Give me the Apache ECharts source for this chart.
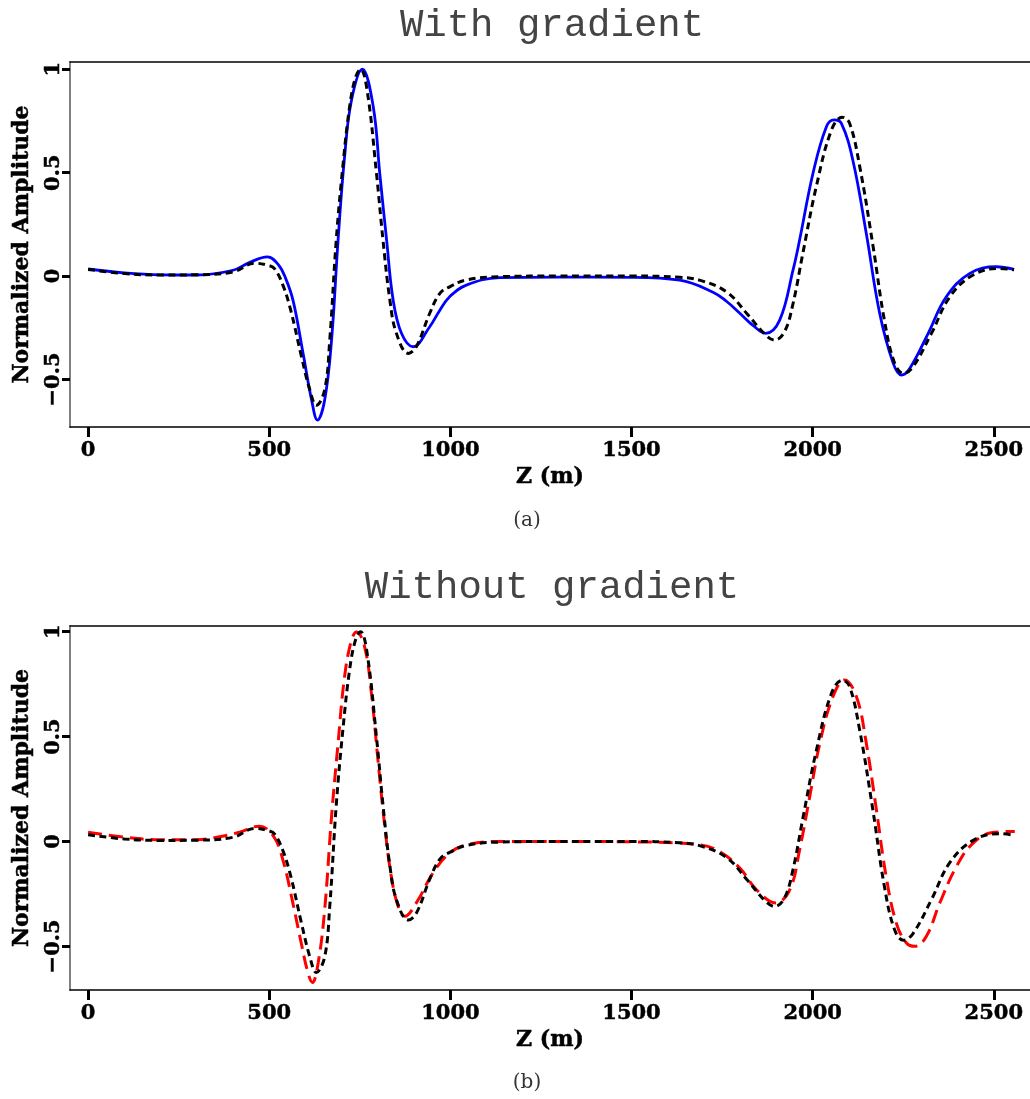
<!DOCTYPE html>
<html>
<head>
<meta charset="utf-8">
<title>Normalized amplitude vs depth</title>
<script src="https://cdn.jsdelivr.net/npm/echarts@6/dist/echarts.min.js"></script>
<style>
  html, body { margin: 0; padding: 0; background: #fff; }
  #chart { width: 1030px; height: 1099px; }
</style>
</head>
<body>
<div id="chart"></div>
<script>
// Reference wavelet (black dotted), shared by both panels
const refZ   = [0, 100, 200, 300, 400, 460, 500, 515, 538, 560, 589, 612, 630, 653, 667, 685, 704, 722, 738, 752, 770, 796, 814, 833, 851, 884, 906, 943, 971, 998, 1044, 1136, 1300, 1500, 1633, 1688, 1762, 1822, 1870, 1895, 1922, 1945, 1973, 2010, 2052, 2082, 2102, 2130, 2167, 2198, 2226, 2251, 2277, 2328, 2379, 2443, 2516, 2556];
const refAmp = [0.032, 0.012, 0.005, 0.006, 0.02, 0.062, 0.05, 0.035, -0.045, -0.17, -0.39, -0.55, -0.625, -0.55, -0.31, 0.174, 0.545, 0.82, 0.96, 1.0, 0.9, 0.497, 0.174, -0.116, -0.277, -0.374, -0.342, -0.18, -0.084, -0.052, -0.019, -0.003, 0.0, 0.0, -0.006, -0.02, -0.076, -0.189, -0.285, -0.31, -0.27, -0.14, 0.11, 0.432, 0.706, 0.768, 0.739, 0.529, 0.142, -0.213, -0.42, -0.471, -0.439, -0.277, -0.1, 0.005, 0.037, 0.03];

// Panel (a): with gradient (blue solid)
const gradZ   = [0, 100, 200, 300, 400, 445, 495, 525, 545, 566, 593, 617, 633, 653, 672, 690, 708, 727, 757, 787, 805, 824, 842, 865, 897, 943, 971, 998, 1044, 1136, 1300, 1500, 1633, 1725, 1762, 1799, 1836, 1870, 1909, 1946, 1964, 2001, 2038, 2059, 2079, 2111, 2148, 2185, 2222, 2245, 2268, 2319, 2369, 2434, 2507, 2556];
const gradAmp = [0.034, 0.015, 0.006, 0.005, 0.028, 0.065, 0.093, 0.055, -0.01, -0.12, -0.37, -0.6, -0.697, -0.6, -0.31, 0.174, 0.577, 0.85, 1.0, 0.82, 0.497, 0.174, -0.116, -0.277, -0.342, -0.245, -0.165, -0.1, -0.044, -0.008, -0.005, -0.006, -0.02, -0.078, -0.122, -0.18, -0.24, -0.277, -0.213, 0.03, 0.174, 0.497, 0.722, 0.755, 0.739, 0.56, 0.207, -0.18, -0.42, -0.479, -0.447, -0.277, -0.1, 0.013, 0.045, 0.032];

// Panel (b): without gradient (red dashed)
const noGradZ   = [0, 100, 200, 300, 355, 420, 472, 512, 538, 566, 589, 607, 619, 635, 653, 672, 690, 708, 727, 741, 763, 782, 800, 819, 837, 856, 874, 906, 952, 998, 1044, 1136, 1300, 1500, 1688, 1743, 1799, 1845, 1898, 1937, 1964, 1992, 2020, 2056, 2088, 2121, 2148, 2176, 2203, 2231, 2259, 2282, 2314, 2351, 2397, 2443, 2497, 2558];
const noGradAmp = [0.044, 0.02, 0.008, 0.008, 0.02, 0.045, 0.073, 0.024, -0.09, -0.3, -0.49, -0.627, -0.672, -0.579, -0.325, 0.119, 0.469, 0.786, 0.96, 0.998, 0.93, 0.707, 0.389, 0.071, -0.167, -0.31, -0.357, -0.293, -0.15, -0.055, -0.016, 0.0, 0.0, -0.002, -0.016, -0.048, -0.127, -0.23, -0.293, -0.23, -0.04, 0.214, 0.469, 0.69, 0.77, 0.69, 0.469, 0.151, -0.167, -0.389, -0.484, -0.5, -0.452, -0.293, -0.119, -0.008, 0.043, 0.048];

// Tick positions
const zTicks   = [0, 500, 1000, 1500, 2000, 2500];
const ampTicks = [-0.5, 0, 0.5, 1];

const panelTitles = ['With gradient', 'Without gradient'];
const panelTags   = ['(a)', '(b)'];

const pairs = (xs, ys) => xs.map((x, i) => [x, ys[i]]);

const labelFont = 'DejaVu Serif';
const boldText = { fontFamily: labelFont, fontWeight: 'bold', color: '#000', textBorderColor: '#000', textBorderWidth: 0.5 };
const ampLabel = (v) => String(v).replace('-', '\u2212');
const zLabel = (v) => String(v);

function bottomAxis(gridIndex) {
  return {
    type: 'value', gridIndex, position: 'bottom', min: -50, max: 2600,
    name: 'Z (m)', nameLocation: 'middle', nameGap: 39,
    nameTextStyle: Object.assign({ fontSize: 22 }, boldText),
    axisLine: { show: true, onZero: false, lineStyle: { color: '#000', width: 1.5 } },
    axisTick: { show: true, customValues: zTicks, length: 10, lineStyle: { color: '#000', width: 3 } },
    axisLabel: Object.assign({ customValues: zTicks, margin: 13, fontSize: 21, formatter: zLabel }, boldText),
    splitLine: { show: false }
  };
}
function topAxis(gridIndex) {
  return {
    type: 'value', gridIndex, position: 'top', min: -50, max: 2600,
    axisLine: { show: true, onZero: false, lineStyle: { color: '#000', width: 1.5 } },
    axisTick: { show: false }, axisLabel: { show: false }, splitLine: { show: false }
  };
}
function leftAxis(gridIndex, min, max) {
  return {
    type: 'value', gridIndex, min, max,
    name: 'Normalized Amplitude', nameLocation: 'middle', nameGap: 37, nameRotate: 90,
    nameTextStyle: Object.assign({ fontSize: 22 }, boldText),
    axisLine: { show: true, onZero: false, lineStyle: { color: '#808080', width: 2 } },
    axisTick: { show: true, customValues: ampTicks, length: 8, lineStyle: { color: '#000', width: 3 } },
    axisLabel: Object.assign({ customValues: ampTicks, rotate: 90, margin: 6, formatter: ampLabel, fontSize: 21 }, boldText),
    splitLine: { show: false }
  };
}

const refStyle = { color: '#000', width: 3, type: [7, 4.5] };

const option = {
  animation: false,
  backgroundColor: '#fff',
  grid: [
    { left: 70, top: 62, width: 960, height: 365, outerBoundsMode: 'none' },
    { left: 70, top: 626, width: 960, height: 364, outerBoundsMode: 'none' }
  ],
  xAxis: [bottomAxis(0), bottomAxis(1), topAxis(0), topAxis(1)],
  yAxis: [leftAxis(0, -0.73, 1.035), leftAxis(1, -0.708, 1.027)],
  series: [
    { type: 'line', name: 'with gradient', xAxisIndex: 0, yAxisIndex: 0, data: pairs(gradZ, gradAmp),
      smooth: 0.4, showSymbol: false, lineStyle: { color: '#0000ff', width: 2.8 } },
    { type: 'line', name: 'reference', xAxisIndex: 0, yAxisIndex: 0, data: pairs(refZ, refAmp),
      smooth: 0.4, showSymbol: false, lineStyle: refStyle },
    { type: 'line', name: 'without gradient', xAxisIndex: 1, yAxisIndex: 1, data: pairs(noGradZ, noGradAmp),
      smooth: 0.4, showSymbol: false, lineStyle: { color: '#ff0000', width: 3, type: [14, 7] } },
    { type: 'line', name: 'reference', xAxisIndex: 1, yAxisIndex: 1, data: pairs(refZ, refAmp),
      smooth: 0.4, showSymbol: false, lineStyle: refStyle }
  ],
  graphic: [
    { type: 'text', x: 552, y: 26, style: { text: panelTitles[0], font: '39px "Liberation Mono"', fill: '#444', align: 'center', verticalAlign: 'middle' } },
    { type: 'text', x: 552, y: 588, style: { text: panelTitles[1], font: '39px "Liberation Mono"', fill: '#444', align: 'center', verticalAlign: 'middle' } },
    { type: 'text', x: 527, y: 521, style: { text: panelTags[0], font: '20px "DejaVu Serif"', fill: '#333', align: 'center', verticalAlign: 'middle' } },
    { type: 'text', x: 527, y: 1083, style: { text: panelTags[1], font: '20px "DejaVu Serif"', fill: '#333', align: 'center', verticalAlign: 'middle' } }
  ]
};

const chart = echarts.init(document.getElementById('chart'), null, { renderer: 'canvas' });
chart.setOption(option);
</script>
</body>
</html>
